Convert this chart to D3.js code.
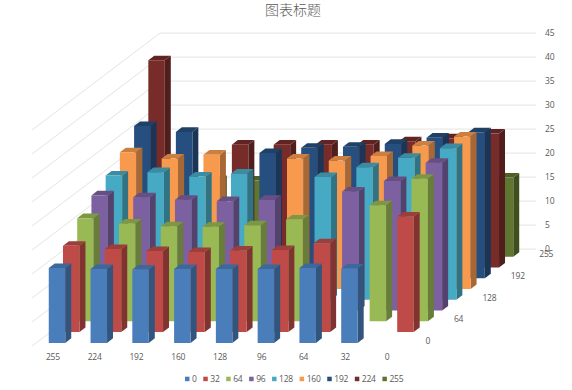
<!DOCTYPE html>
<html>
<head>
<meta charset="utf-8">
<script src="https://d3js.org/d3.v7.min.js"></script>
<style>
body { margin: 0; background: #fff; }
svg { display: block; }
text { font-family: "Open Sans", sans-serif; font-size: 8.5px; letter-spacing: -0.2px; fill: #595959; }
.title { font-family: "Noto Sans CJK SC", sans-serif; font-size: 14px; font-weight: 300; letter-spacing: 0; }
.domain { display: none; }
</style>
</head>
<body>
<div id="chart"></div>
<script>
const title = "图表标题";
const categories = ["255", "224", "192", "160", "128", "96", "64", "32", "0"];
const seriesNames = ["0", "32", "64", "96", "128", "160", "192", "224", "255"];
const seriesColors = ["#4a7ebb", "#be4b48", "#98b954", "#7d60a0", "#46aac5", "#f79a4e", "#264f7f", "#772c2a", "#5f7530"];
const yTicks = [0, 5, 10, 15, 20, 25, 30, 35, 40, 45];

// one list per series, in the order of categories
const s0 = [15.6, 15.4, 15.3, 15.4, 15.4, 15.4, 15.6, 15.5, 0];
const s32 = [18, 17.3, 16.9, 16.7, 17, 17.1, 18.5, 0, 24.1];
const s64 = [21.5, 20.4, 19.8, 19.7, 20, 21.2, 0, 24.2, 29.7];
const s96 = [24, 23.6, 23.1, 22.8, 23.1, 0, 24.8, 27, 30.8];
const s128 = [25.9, 26.6, 25.7, 26.3, 0, 25.6, 27.6, 29.6, 31.6];
const s160 = [28.5, 27.2, 28, 0, 27.2, 26.8, 27.7, 29.9, 31.8];
const s192 = [31.7, 30.5, 0, 26.1, 27.2, 27.4, 28, 29.3, 30.4];
const s224 = [43.2, 0, 25.6, 25.6, 25.6, 25.6, 26.3, 26.9, 27.9];
const s255 = [0, 16, 15.9, 16, 16, 16, 16, 16, 16.5];
const seriesValues = [s0, s32, s64, s96, s128, s160, s192, s224, s255];

const width = 572;
const height = 390;
const floorLeft = 32;
const floorFront = 346;
const floorWidth = 376;
const depthWidth = 128;
const depthRise = 0.757;

const svg = d3.select("#chart").append("svg")
    .attr("width", width)
    .attr("height", height);

// Scales
const xScale = d3.scaleBand().domain(categories).range([0, floorWidth]);
const zScale = d3.scaleBand().domain(seriesNames).range([0, depthWidth]);
const yScale = d3.scaleLinear().domain([0, 45]).range([0, 216]);

// oblique projection: x along the floor, z into the chart, v up
const project = (x, z, v) => [
    floorLeft + x + z,
    floorFront - z * depthRise - yScale(v)
];

// Walls
const gridColor = "#e4e4e4";
yTicks.forEach(tick => {
    const pts = [project(0, 0, tick), project(0, depthWidth, tick), project(floorWidth, depthWidth, tick)];
    svg.append("polyline")
        .attr("points", pts.join(" "))
        .attr("fill", "none")
        .attr("stroke", gridColor)
        .attr("stroke-width", 1);
});

// Bars, painted from the back row to the front one
const barWidth = xScale.bandwidth() * 0.395;
const barDepth = zScale.bandwidth() * 0.42;

const face = (pts, color) => {
    svg.append("polygon")
        .attr("points", pts.join(" "))
        .attr("fill", color);
};

d3.range(seriesNames.length - 1, -1, -1).forEach(si => {
    const base = d3.color(seriesColors[si]);
    const topColor = base.darker(0.55).formatHex();
    const sideColor = base.darker(1.1).formatHex();
    const z0 = zScale(seriesNames[si]) + (zScale.bandwidth() - barDepth) / 2;
    const z1 = z0 + barDepth;

    categories.forEach((cat, ci) => {
        const value = seriesValues[si][ci];
        if (!value) return;
        const x0 = xScale(cat) + (xScale.bandwidth() - barWidth) / 2;
        const x1 = x0 + barWidth;

        face([project(x1, z0, 0), project(x1, z1, 0), project(x1, z1, value), project(x1, z0, value)], sideColor);
        face([project(x0, z0, value), project(x1, z0, value), project(x1, z1, value), project(x0, z1, value)], topColor);
        face([project(x0, z0, 0), project(x1, z0, 0), project(x1, z0, value), project(x0, z0, value)], seriesColors[si]);
    });
});

// Value axis on the right of the back wall
const yAxisScale = d3.scaleLinear().domain([0, 45]).range([floorFront - depthWidth * depthRise, floorFront - depthWidth * depthRise - 216]);
svg.append("g")
    .attr("transform", `translate(${floorLeft + floorWidth + depthWidth}, 0)`)
    .call(d3.axisRight(yAxisScale).tickValues(yTicks).tickSize(0).tickPadding(9));

// Category axis under the front edge
svg.append("g")
    .attr("transform", `translate(${floorLeft}, 350)`)
    .call(d3.axisBottom(xScale).tickSize(0).tickPadding(4));

// Depth axis, every other series gets a label
seriesNames.filter((d, i) => i % 2 === 0).forEach(name => {
    const z = zScale(name) + zScale.bandwidth() / 2;
    const p = project(floorWidth, z, 0);
    svg.append("text")
        .attr("x", p[0] + 10.4)
        .attr("y", p[1])
        .attr("dy", "0.35em")
        .text(name);
});

// Title
svg.append("text")
    .attr("class", "title")
    .attr("x", 293)
    .attr("y", 15)
    .attr("text-anchor", "middle")
    .text(title);

// Legend
let legendX = 185;
seriesNames.forEach((name, i) => {
    svg.append("rect")
        .attr("x", legendX)
        .attr("y", 376.7)
        .attr("width", 4.5)
        .attr("height", 4.5)
        .attr("fill", seriesColors[i]);
    const label = svg.append("text")
        .attr("x", legendX + 7)
        .attr("y", 379)
        .attr("dy", "0.35em")
        .text(name);
    legendX += 7 + label.node().getComputedTextLength() + 6.6;
});
</script>
</body>
</html>
